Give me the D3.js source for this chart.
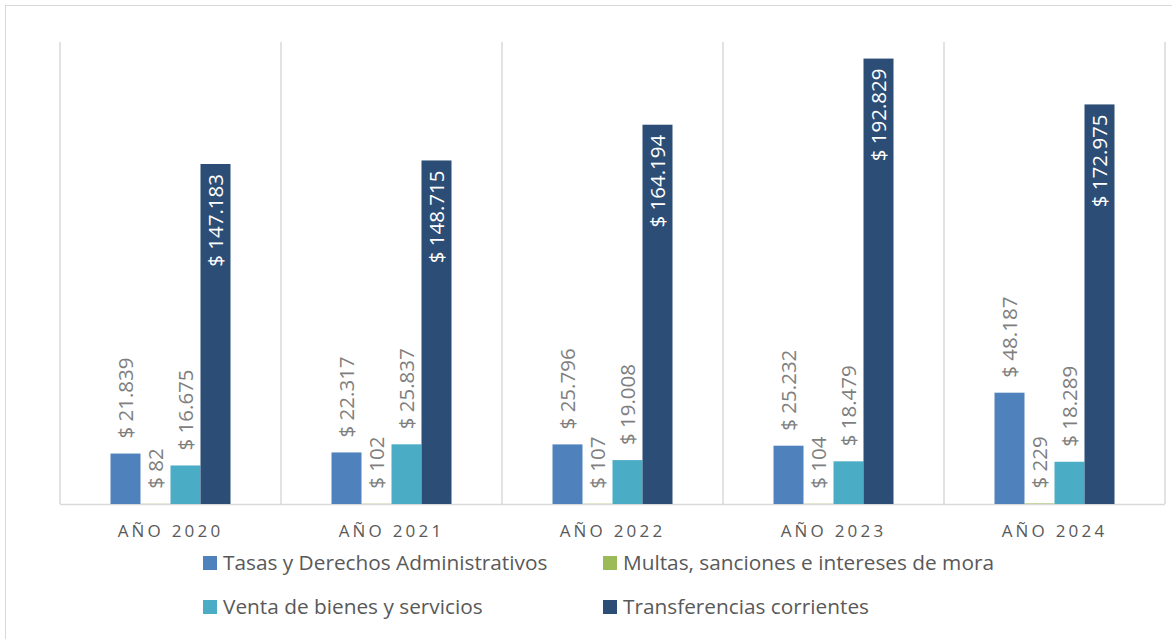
<!DOCTYPE html>
<html>
<head>
<meta charset="utf-8">
<script src="https://cdn.jsdelivr.net/npm/d3@7"></script>
<style>
  body { margin: 0; background: #fff; }
  svg { display: block; font-family: "Open Sans", sans-serif; }
</style>
</head>
<body>
<svg id="chart"></svg>
<script>
const years = ["AÑO 2020", "AÑO 2021", "AÑO 2022", "AÑO 2023", "AÑO 2024"];
const seriesNames = ["Tasas y Derechos Administrativos", "Multas, sanciones e intereses de mora", "Venta de bienes y servicios", "Transferencias corrientes"];
const tasas = [21839, 22317, 25796, 25232, 48187];
const multas = [82, 102, 107, 104, 229];
const venta = [16675, 25837, 19008, 18479, 18289];
const transferencias = [147183, 148715, 164194, 192829, 172975];
const colors = ["#4f81bd", "#9bbb59", "#4bacc6", "#2c4d75"];

const width = 1172, height = 639;
const margin = {top: 42, left: 60, right: 1165, bottom: 504};

const svg = d3.select("#chart").attr("width", width).attr("height", height);

svg.append("rect")
    .attr("x", 5.5).attr("y", 5.5)
    .attr("width", width).attr("height", height)
    .attr("fill", "none").attr("stroke", "#d9d9d9");

const series = [tasas, multas, venta, transferencias];
const data = years.map((y, i) => ({year: y, values: series.map(s => s[i])}));

const x = d3.scaleBand().domain(years).range([margin.left, margin.right]);
const xInner = d3.scaleBand().domain(d3.range(4))
    .range([0, 120]);
const y = d3.scaleLinear().domain([0, 200000]).range([margin.bottom, margin.top]);

// vertical grid lines at category boundaries
const bounds = years.map(d => x(d)).concat([margin.right]);
svg.append("g").selectAll("line").data(bounds).enter().append("line")
    .attr("x1", d => d).attr("x2", d => d)
    .attr("y1", margin.top).attr("y2", margin.bottom)
    .attr("stroke", "#d9d9d9").attr("stroke-width", 1.5);

// x axis
svg.append("line")
    .attr("x1", margin.left).attr("x2", margin.right)
    .attr("y1", margin.bottom + 0.5).attr("y2", margin.bottom + 0.5)
    .attr("stroke", "#d9d9d9").attr("stroke-width", 1.5);

const groups = svg.append("g").selectAll("g").data(data).enter().append("g")
    .attr("transform", d => `translate(${x(d.year) + (x.bandwidth() - 120) / 2},0)`);

const fmt = v => "$ " + d3.format(",")(v).replace(/,/g, ".");

groups.selectAll("rect").data(d => d.values).enter().append("rect")
    .attr("x", (d, i) => xInner(i))
    .attr("width", xInner.bandwidth())
    .attr("y", d => y(d))
    .attr("height", d => y(0) - y(d))
    .attr("fill", (d, i) => colors[i]);

groups.selectAll("text.lbl").data(d => d.values).enter().append("text")
    .attr("class", "lbl")
    .attr("transform", (d, i) => {
      const cx = xInner(i) + xInner.bandwidth() / 2;
      const ty = i === 3 ? y(d) + 10 : y(d) - 15;
      return `translate(${cx},${ty}) rotate(-90)`;
    })
    .attr("text-anchor", (d, i) => i === 3 ? "end" : "start")
    .attr("dy", "0.35em")
    .attr("font-size", 20.5)
    .attr("fill", (d, i) => i === 3 ? "#ffffff" : "#7f7f7f")
    .text(d => fmt(d));

// category labels
svg.append("g").selectAll("text").data(years).enter().append("text")
    .attr("x", d => x(d) + x.bandwidth() / 2)
    .attr("y", 537)
    .attr("text-anchor", "middle")
    .attr("font-size", 17)
    .attr("letter-spacing", 3.2)
    .attr("fill", "#595959")
    .text(d => d);

// legend
const legendPos = [[203, 563], [603, 563], [203, 607], [603, 607]];
const legend = svg.append("g").selectAll("g").data(seriesNames).enter().append("g")
    .attr("transform", (d, i) => `translate(${legendPos[i][0]},${legendPos[i][1]})`);
legend.append("rect")
    .attr("x", 0).attr("y", -7).attr("width", 14).attr("height", 14)
    .attr("fill", (d, i) => colors[i]);
legend.append("text")
    .attr("x", 20).attr("dy", "0.35em")
    .attr("font-size", 20.8)
    .attr("fill", "#595959")
    .text(d => d);
</script>
</body>
</html>
